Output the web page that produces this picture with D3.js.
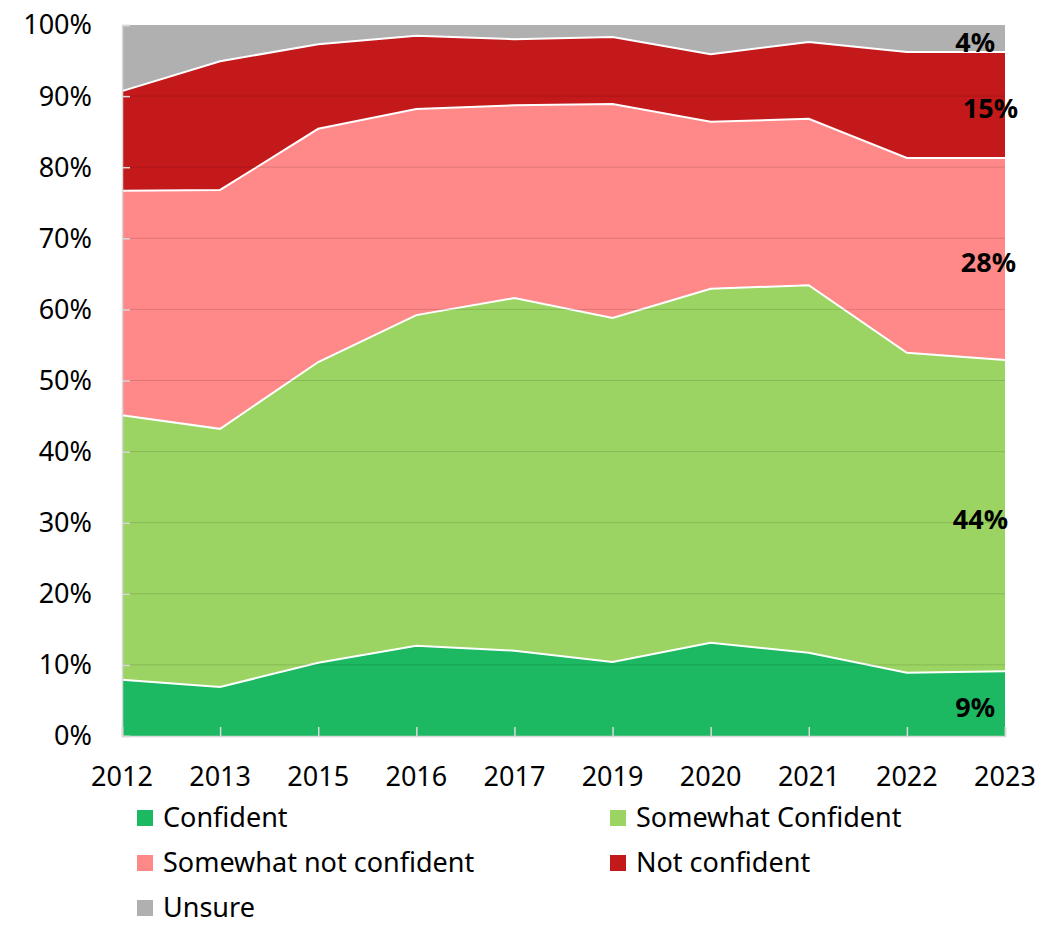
<!DOCTYPE html>
<html lang="en">
<head>
<meta charset="utf-8">
<script src="https://d3js.org/d3.v7.min.js"></script>
<style>
  body { margin: 0; background: #fff; }
  text { font-family: "Noto Sans", "Liberation Sans", sans-serif; }
</style>
</head>
<body>
<script>
// data (percent of respondents)
const years = ["2012", "2013", "2015", "2016", "2017", "2019", "2020", "2021", "2022", "2023"];
const confident         = [7.9, 6.9, 10.3, 12.7, 12.0, 10.4, 13.1, 11.7, 8.9, 9.1];
const somewhatConfident = [37.2, 36.3, 42.3, 46.5, 49.6, 48.4, 49.8, 51.7, 45.0, 43.8];
const somewhatNot       = [31.6, 33.6, 32.8, 29.0, 27.1, 30.1, 23.5, 23.4, 27.4, 28.4];
const notConfident      = [14.0, 18.1, 11.9, 10.3, 9.3, 9.4, 9.5, 10.8, 14.9, 14.9];
const unsure            = [9.3, 5.1, 2.7, 1.5, 2.0, 1.7, 4.1, 2.4, 3.8, 3.8];
const seriesNames = ["Confident", "Somewhat Confident", "Somewhat not confident", "Not confident", "Unsure"];
const seriesColors = ["#1cb862", "#9bd462", "#ff8888", "#c4191b", "#b0b0b0"];
const endLabels = ["9%", "44%", "28%", "15%", "4%"];
const yTicks = [0, 10, 20, 30, 40, 50, 60, 70, 80, 90, 100];

const W = 1042, H = 927;
const margin = {top: 25, right: 37, bottom: 191, left: 122};
const width = W - margin.left - margin.right;
const height = H - margin.top - margin.bottom;

const svg = d3.select("body").append("svg")
    .attr("width", W).attr("height", H);
const g = svg.append("g")
    .attr("transform", "translate(" + margin.left + "," + margin.top + ")");

const table = years.map(function(yr, i) {
  return {
    year: yr,
    "Confident": confident[i],
    "Somewhat Confident": somewhatConfident[i],
    "Somewhat not confident": somewhatNot[i],
    "Not confident": notConfident[i],
    "Unsure": unsure[i]
  };
});

const stacked = d3.stack().keys(seriesNames)(table);

const x = d3.scalePoint().domain(years).range([0, width]);
const y = d3.scaleLinear().domain([0, 100]).range([height, 0]);

const area = d3.area()
    .x(function(d) { return x(d.data.year); })
    .y0(function(d) { return y(d[0]); })
    .y1(function(d) { return y(Math.min(d[1], 100)); });

g.selectAll("path.area")
  .data(stacked)
  .join("path")
    .attr("class", "area")
    .attr("fill", function(d, i) { return seriesColors[i]; })
    .attr("d", area);

// white boundary lines between layers
const topLine = d3.line()
    .x(function(d) { return x(d.data.year); })
    .y(function(d) { return y(d[1]); });
g.selectAll("path.edge")
  .data(stacked.slice(0, 4))
  .join("path")
    .attr("class", "edge")
    .attr("fill", "none")
    .attr("stroke", "#fff")
    .attr("stroke-width", 2)
    .attr("d", topLine);

// gridlines drawn over the areas
g.selectAll("line.grid")
  .data(yTicks.slice(1, -1))
  .join("line")
    .attr("class", "grid")
    .attr("x1", 0).attr("x2", width)
    .attr("y1", function(d) { return y(d); })
    .attr("y2", function(d) { return y(d); })
    .attr("stroke", "rgba(0,0,0,0.13)")
    .attr("stroke-width", 1);

// y axis
const yAxis = g.append("g")
  .call(d3.axisRight(y).tickValues(yTicks).tickSize(8).tickFormat(""));
yAxis.select(".domain").attr("stroke", "#d9d9d9").attr("stroke-width", 1.5);
yAxis.selectAll(".tick line").attr("stroke", "#d9d9d9").attr("stroke-width", 1.5);

g.selectAll("text.ylab")
  .data(yTicks)
  .join("text")
    .attr("class", "ylab")
    .attr("x", -30)
    .attr("y", function(d) { return y(d); })
    .attr("dy", "0.35em")
    .attr("text-anchor", "end")
    .attr("font-size", 27)
    .attr("fill", "#000")
    .text(function(d) { return d + "%"; });

// x axis
const xAxis = g.append("g")
  .attr("transform", "translate(0," + height + ")")
  .call(d3.axisTop(x).tickSize(9).tickFormat(""));
xAxis.select(".domain").attr("stroke", "#d9d9d9").attr("stroke-width", 1.5);
xAxis.selectAll(".tick line").attr("stroke", "#d9d9d9").attr("stroke-width", 1.5);

g.selectAll("text.xlab")
  .data(years)
  .join("text")
    .attr("class", "xlab")
    .attr("x", function(d) { return x(d); })
    .attr("y", height + 50)
    .attr("text-anchor", "middle")
    .attr("font-size", 27)
    .attr("fill", "#000")
    .text(function(d) { return d; });

// labels for 2023 values
const labelShift = [-10, 3, 11, 13, -10];
const last = years.length - 1;
g.selectAll("text.endlab")
  .data(stacked)
  .join("text")
    .attr("class", "endlab")
    .attr("x", function(d, i) { return width + labelShift[i]; })
    .attr("y", function(d) { return y((d[last][0] + Math.min(d[last][1], 100)) / 2) + 4; })
    .attr("dy", "0.35em")
    .attr("text-anchor", "end")
    .attr("font-size", 27)
    .attr("font-weight", "bold")
    .attr("fill", "#000")
    .text(function(d, i) { return endLabels[i]; });

// legend
const legend = svg.append("g");
const item = legend.selectAll("g")
  .data(seriesNames)
  .join("g")
    .attr("transform", function(d, i) {
      return "translate(" + (i % 2 === 0 ? 137 : 610) + "," + (818 + Math.floor(i / 2) * 45) + ")";
    });
item.append("rect")
    .attr("x", 0).attr("y", -8)
    .attr("width", 16).attr("height", 16)
    .attr("fill", function(d, i) { return seriesColors[i]; });
item.append("text")
    .attr("x", 26)
    .attr("dy", "0.35em")
    .attr("font-size", 27)
    .attr("fill", "#000")
    .text(function(d) { return d; });
</script>
</body>
</html>
